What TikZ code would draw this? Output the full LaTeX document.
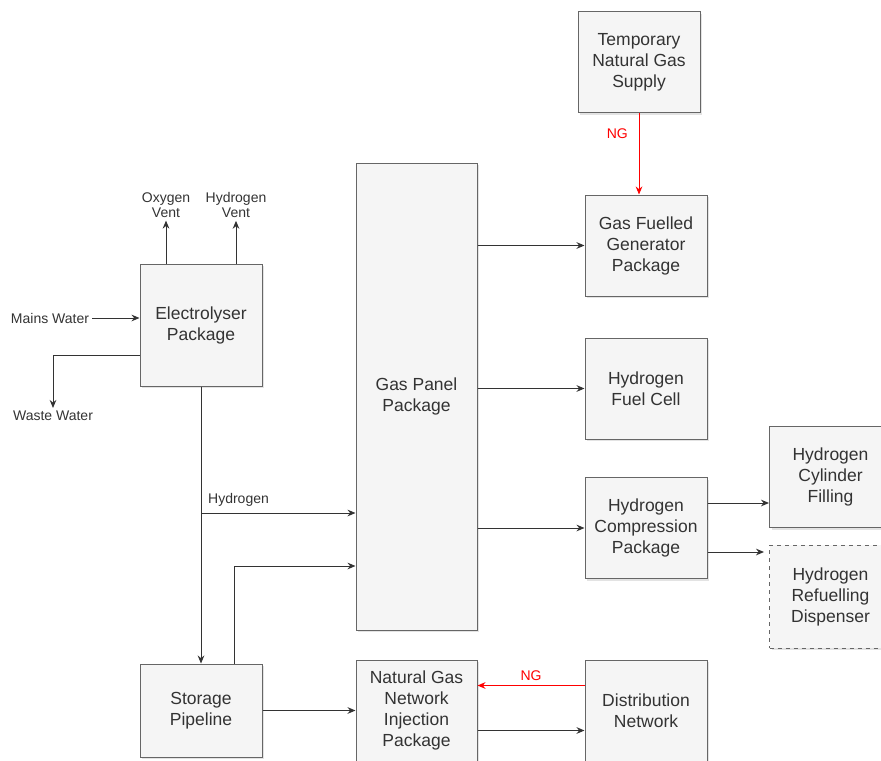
\documentclass[tikz,border=0pt]{standalone}
\usepackage{fontspec}
\setmainfont{Liberation Sans}
\usetikzlibrary{arrows.meta,calc,shadows}
\newdimen\unit
\tikzset{unit/.code={\unit=\dimexpr#1\relax}}
\tikzset{xy/.style={x={#1},y={-#1},unit={#1},font={\fontsize{17.5\unit}{21\unit}\selectfont},line width=1\unit}}
\definecolor{boxfill}{HTML}{F5F5F5}
\definecolor{boxline}{HTML}{666666}
\definecolor{ink}{HTML}{333333}
\definecolor{ngred}{HTML}{FF0000}
\tikzset{
    box/.style={draw=boxline, fill=boxfill, text=ink, align=center, minimum width=122\unit, minimum height=101\unit,
        drop shadow={shadow xshift=2\unit, shadow yshift=-2\unit, fill=black!22}},
    tag/.style={text=ink, align=center, inner sep=2pt, font={\fontsize{14\unit}{15\unit}\selectfont}},
    flow/.style={draw=ink, -{Stealth[length=6pt,width=5pt]}},
    ngflow/.style={draw=ngred, -{Stealth[length=6pt,width=5pt]}},
}
\begin{document}
\begin{tikzpicture}[xy=.75pt]%
    \path [use as bounding box] (0,0) rectangle (881,760);
    % boxes
    \node [box] (supply) at (639,62) {Temporary\\Natural Gas\\Supply};
    \node [box] (generator) at (646,245.5) {Gas Fuelled\\Generator\\Package};
    \node [box] (fuelcell) at (646,388.5) {Hydrogen\\Fuel Cell};
    \node [box] (compression) at (646,528) {Hydrogen\\Compression\\Package};
    \node [box] (cylinder) at (830.5,477) {Hydrogen\\Cylinder\\Filling};
    \node [box, dashed, minimum height=103\unit] (dispenser) at (830.5,596.5) {Hydrogen\\Refuelling\\Dispenser};
    \node [box, minimum width=121\unit, minimum height=467\unit] (panel) at (416.5,396.5) {Gas Panel\\Package};
    \node [box, minimum height=122\unit] (electrolyser) at (201,325) {Electrolyser\\Package};
    \node [box, minimum height=93\unit] (storage) at (201,710.5) {Storage\\Pipeline};
    \node [box, minimum width=121\unit] (injection) at (416.5,710.5) {Natural Gas\\Network\\Injection\\Package};
    \node [box] (network) at (646,710.5) {Distribution\\Network};
    % free labels
    \node [tag] (mains) at (50,318) {Mains Water};
    \node [tag] (waste) at (53,416) {Waste Water};
    \node [tag] (oxvent) at (166,205) {Oxygen\\Vent};
    \node [tag] (hyvent) at (236,205) {Hydrogen\\Vent};
    \coordinate (tee) at (electrolyser.south |- 0,513);
    \coordinate (riser) at ($(storage.north)+(33,0)$);
    \coordinate (tocyl) at ($(compression.east)+(0,-25)$);
    \coordinate (todisp) at ($(compression.east)+(0,24)$);
    % electrolyser connections
    \path [flow] (mains) -- (electrolyser.west |- mains);
    \path [flow] ($(electrolyser.west)+(0,30)$) -| (waste.north);
    \path [flow] (electrolyser.north -| oxvent) -- (oxvent.south);
    \path [flow] (electrolyser.north -| hyvent) -- (hyvent.south);
    \path [flow] (electrolyser.south) -- (storage.north);
    \path [flow] (tee) -- (panel.west |- tee) node [pos=0, anchor=south west, tag, xshift=4\unit, yshift=3\unit] {Hydrogen};
    \path [flow] (riser) |- ($(panel.west)+(0,169.5)$);
    % gas panel outputs
    \path [flow] (panel.east |- generator) -- (generator);
    \path [flow] (panel.east |- fuelcell) -- (fuelcell);
    \path [flow] (panel.east |- compression) -- (compression);
    \path [ngflow] (supply.south) -- (supply.south |- generator.north) node [pos=.25, left, tag, text=ngred, xshift=-8\unit] {NG};
    % compression outputs
    \path [flow] (tocyl) -- (cylinder.west |- tocyl);
    \path [flow, shorten >=5\unit] (todisp) -- (dispenser.west |- todisp);
    % bottom row
    \path [flow] (storage.east) -- (injection.west |- storage.east);
    \path [flow] ($(injection.east)+(0,20)$) -- ($(network.west)+(0,20)$);
    \path [ngflow] ($(network.west)+(0,-25)$) -- ($(injection.east)+(0,-25)$) node [midway, above, tag, text=ngred, yshift=2\unit] {NG};
\end{tikzpicture}
\end{document}
